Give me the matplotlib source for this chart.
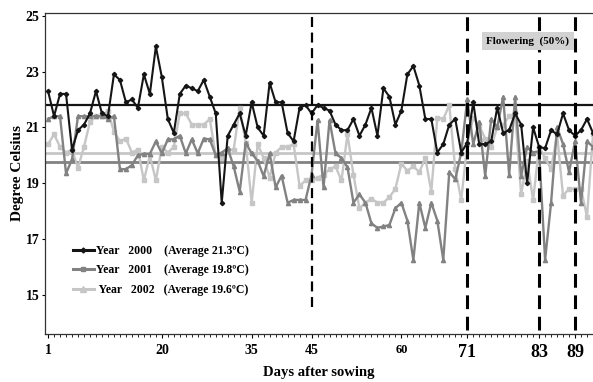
import numpy as np
import matplotlib
matplotlib.use("Agg")
import matplotlib.pyplot as plt
from matplotlib.lines import Line2D

days = np.arange(1, 93)

temp_2000 = [22.3, 21.4, 22.2, 22.2, 20.2, 20.9, 21.1, 21.5, 22.3, 21.5,
             21.4, 22.9, 22.7, 21.9, 22.0, 21.7, 22.9, 22.2, 23.9, 22.8,
             21.3, 20.8, 22.2, 22.5, 22.4, 22.3, 22.7, 22.1, 21.5, 18.3,
             20.7, 21.1, 21.5, 20.7, 21.9, 21.0, 20.7, 22.6, 21.9, 21.9,
             20.8, 20.5, 21.7, 21.8, 21.5, 21.8, 21.7, 21.6, 21.1, 20.9,
             20.9, 21.3, 20.7, 21.1, 21.7, 20.7, 22.4, 22.1, 21.1, 21.6,
             22.9, 23.2, 22.5, 21.3, 21.3, 20.1, 20.4, 21.1, 21.3, 20.1,
             20.45, 21.9, 20.4, 20.4, 20.5, 21.7, 20.8, 20.9, 21.5, 21.1,
             19.0, 21.0, 20.3, 20.25, 20.9, 20.75, 21.5, 20.9, 20.7, 20.9,
             21.3, 20.8]

temp_2001 = [21.3, 21.4, 21.4, 19.35, 19.85, 21.4, 21.4, 21.4, 21.4, 21.4,
             21.3, 21.4, 19.5, 19.5, 19.65, 20.0, 20.05, 20.05, 20.5, 20.07,
             20.57, 20.57, 20.7, 20.07, 20.57, 20.07, 20.6, 20.57, 20.0, 20.1,
             20.25, 19.6, 18.7, 20.45, 20.07, 19.8, 19.25, 20.07, 18.85, 19.27,
             18.3, 18.4, 18.4, 18.4, 19.3, 21.25, 18.85, 21.25, 20.07, 19.9,
             19.57, 18.3, 18.6, 18.3, 17.56, 17.4, 17.45, 17.5, 18.1, 18.3,
             17.66, 16.25, 18.3, 17.4, 18.3, 17.66, 16.25, 19.4, 19.14, 20.1,
             22.0, 20.4, 21.2, 19.26, 21.3, 21.0, 22.1, 19.3, 22.1, 19.26,
             20.3, 20.1, 20.15, 16.25, 18.3, 21.0, 20.4, 19.4, 20.5, 18.3,
             20.5, 20.3]

temp_2002 = [20.4, 20.75, 20.3, 20.1, 20.2, 19.55, 20.3, 21.2, 21.4, 21.4,
             21.6, 20.85, 20.5, 20.6, 20.1, 20.2, 19.1, 20.0, 19.1, 20.3,
             20.1, 20.3, 21.5, 21.5, 21.1, 21.1, 21.1, 21.3, 20.0, 19.9,
             20.2, 20.2, 21.7, 20.45, 18.3, 20.4, 19.9, 19.2, 20.1, 20.3,
             20.3, 20.4, 18.9, 19.1, 19.1, 19.2, 19.3, 19.5, 19.6, 19.1,
             20.75, 19.3, 18.1, 18.3, 18.45, 18.3, 18.3, 18.5, 18.8, 19.7,
             19.45, 19.6, 19.4, 19.9, 18.7, 21.35, 21.3, 21.8, 19.5, 18.4,
             20.4, 21.35, 21.05, 20.6, 20.3, 21.0, 21.1, 21.4, 21.5, 18.6,
             19.8, 18.4, 20.3, 19.9, 19.5, 20.75, 18.55, 18.8, 18.8, 18.8,
             17.8, 20.75]

avg_lines = [21.8, 20.1, 19.75]   # level of the drawn mean lines
stage_days = [45, 71, 83, 89]
xtick_days = [1, 20, 35, 45, 60, 71, 83, 89]
legend_labels = ["Year   2000    (Average 21.3\u00baC)",
                 "Year   2001    (Average 19.8\u00baC)",
                 " Year   2002   (Average 19.6\u00baC)"]

c_black, c_dark, c_light = "#151515", "#828282", "#c6c6c6"

plt.rcParams["font.family"] = ["Liberation Serif", "DejaVu Serif"]
plt.rcParams["font.weight"] = "bold"

fig = plt.figure(figsize=(5.93, 3.82), dpi=100)
ax = fig.add_axes([0.076, 0.126, 0.924, 0.84])

# mean lines
ax.axhline(avg_lines[0], color=c_black, lw=1.6, zorder=1)
ax.axhline(avg_lines[1], color=c_light, lw=2.0, zorder=1)
ax.axhline(avg_lines[2], color=c_dark, lw=2.0, zorder=1)

ax.plot(days, temp_2002, color=c_light, lw=1.7, marker="s", ms=3, zorder=2)
ax.plot(days, temp_2001, color=c_dark, lw=1.7, marker="^", ms=3, zorder=3)
ax.plot(days, temp_2000, color=c_black, lw=1.5, marker="D", ms=2.2, zorder=4)

# growth stage markers
ax.vlines(stage_days[0], 14.55, 25.1, colors="black", linestyles=(0, (4.5, 2.5)), lw=1.6, zorder=5)
ax.vlines(stage_days[1:], 13.75, 25.1, colors="black", linestyles=(0, (4.5, 2.5)), lw=2.2, zorder=5)

ax.text(0.881, 0.913, "Flowering  (50%)", transform=ax.transAxes, fontsize=8,
        ha="center", va="center", fontweight="bold", zorder=7,
        bbox=dict(facecolor="#d2d2d2", edgecolor="none", pad=3))

ax.set_xlim(0.5, 92.0)
ax.set_ylim(13.6, 25.1)
ax.set_yticks([15, 17, 19, 21, 23, 25])
ax.set_xticks(xtick_days)
ax.set_xticks(days, minor=True)
ax.tick_params(axis="y", labelsize=10, length=2, width=0.8, pad=2)
ax.tick_params(axis="x", which="major", length=3, width=0.8, pad=4)
ax.tick_params(axis="x", which="minor", length=2.5, width=0.6)
for lab in ax.get_xticklabels():
    if lab.get_text() in ("71", "83", "89"):
        lab.set_fontsize(13)
    elif lab.get_text() == "60":
        lab.set_fontsize(9)
    else:
        lab.set_fontsize(10)

for s in ("left", "bottom", "top"):
    ax.spines[s].set_linewidth(0.9)
    ax.spines[s].set_color("#333333")
ax.spines["right"].set_visible(False)

ax.set_ylabel("Degree Celsius", fontsize=11, fontweight="bold")
ax.yaxis.set_label_coords(-0.038, 0.5)
ax.set_xlabel("Days after sowing", fontsize=10.5, fontweight="bold", labelpad=4)

handles = [Line2D([], [], color=c_black, lw=2.2, marker="D", ms=2.5),
           Line2D([], [], color=c_dark, lw=2.2, marker="s", ms=3),
           Line2D([], [], color=c_light, lw=2.2, marker="^", ms=5)]
ax.legend(handles, legend_labels, loc="upper left", bbox_to_anchor=(0.040, 0.295),
          frameon=False, fontsize=8.5, handlelength=1.75, handletextpad=0.2,
          labelspacing=0.62, borderpad=0)

fig.savefig("out.png", dpi=100, facecolor="white")
